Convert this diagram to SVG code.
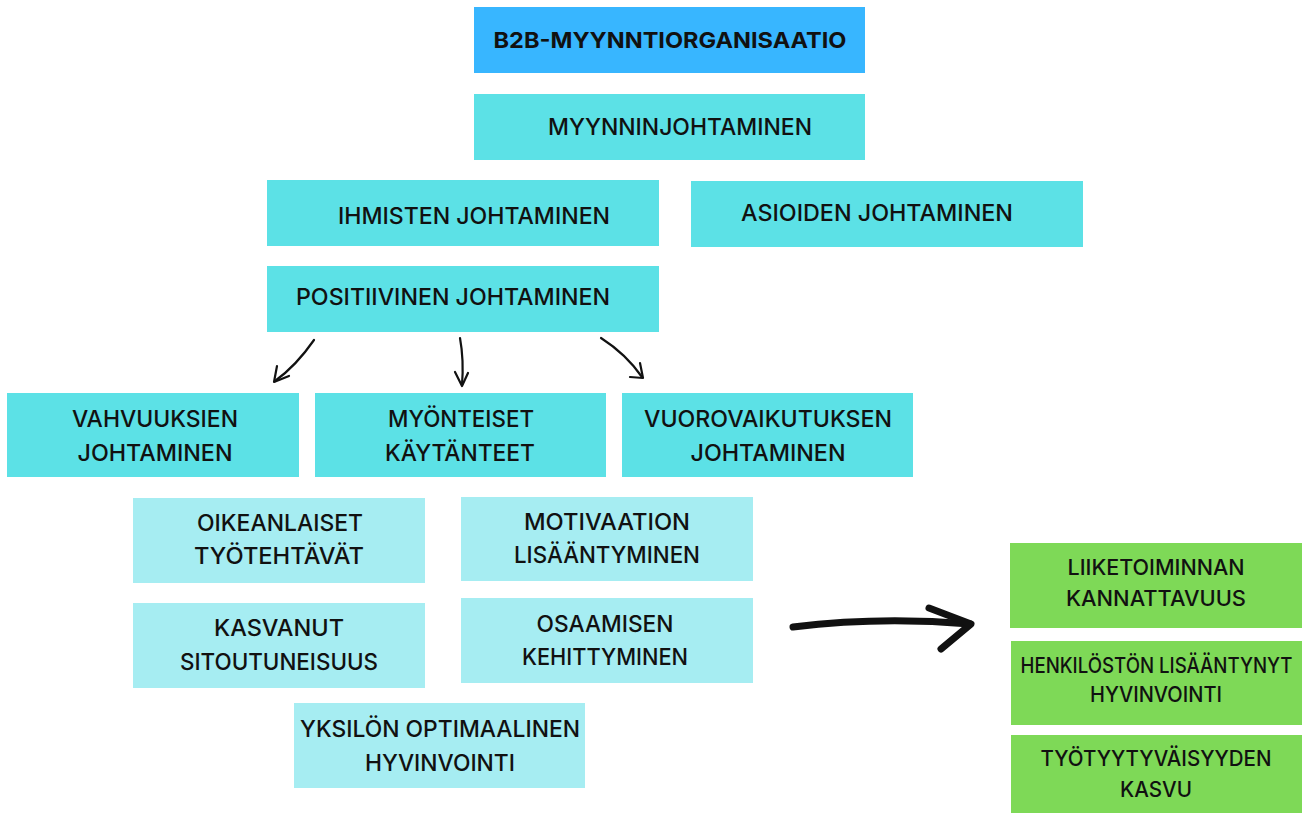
<svg xmlns="http://www.w3.org/2000/svg" width="1305" height="813" viewBox="0 0 1305 813">
<style>
.top{fill:#38B6FF}
.t1{fill:#5CE1E6}
.t2{fill:#A6EDF2}
.g{fill:#7ED957}
text{font-family:Inter,"Liberation Sans",sans-serif;font-weight:500;font-size:23px;fill:#111;text-anchor:middle}
.bold{font-weight:700;font-size:22px}
.sm{font-size:21.5px}
.arr{fill:none;stroke:#111;stroke-width:2.2;stroke-linecap:round;stroke-linejoin:round}
.big{fill:none;stroke:#111;stroke-width:7;stroke-linecap:round;stroke-linejoin:round}
</style>
<rect width="1305" height="813" fill="#fff"/>
<g id="n-b2b"><rect class="top" x="474" y="7" width="391" height="66"/><text class="bold" x="670" y="48" textLength="353" lengthAdjust="spacingAndGlyphs">B2B-MYYNNTIORGANISAATIO</text></g>
<g id="n-myynninjohtaminen"><rect class="t1" x="474" y="94" width="391" height="66"/><text x="680" y="135" textLength="264" lengthAdjust="spacingAndGlyphs">MYYNNINJOHTAMINEN</text></g>
<g id="n-ihmisten"><rect class="t1" x="267" y="180" width="392" height="66"/><text x="474" y="224" textLength="272" lengthAdjust="spacingAndGlyphs">IHMISTEN JOHTAMINEN</text></g>
<g id="n-asioiden"><rect class="t1" x="691" y="181" width="392" height="66"/><text x="877" y="221" textLength="272" lengthAdjust="spacingAndGlyphs">ASIOIDEN JOHTAMINEN</text></g>
<g id="n-positiivinen"><rect class="t1" x="267" y="266" width="392" height="66"/><text x="453" y="305" textLength="314" lengthAdjust="spacingAndGlyphs">POSITIIVINEN JOHTAMINEN</text></g>
<g id="n-vahvuuksien"><rect class="t1" x="7" y="393" width="292" height="84"/><text x="155" y="427" textLength="166" lengthAdjust="spacingAndGlyphs">VAHVUUKSIEN</text><text x="155" y="461" textLength="155" lengthAdjust="spacingAndGlyphs">JOHTAMINEN</text></g>
<g id="n-myonteiset"><rect class="t1" x="315" y="393" width="291" height="84"/><text x="461" y="427" textLength="146" lengthAdjust="spacingAndGlyphs">MYÖNTEISET</text><text x="460" y="461" textLength="150" lengthAdjust="spacingAndGlyphs">KÄYTÄNTEET</text></g>
<g id="n-vuorovaikutuksen"><rect class="t1" x="622" y="393" width="291" height="84"/><text x="768" y="427" textLength="248" lengthAdjust="spacingAndGlyphs">VUOROVAIKUTUKSEN</text><text x="768" y="461" textLength="155" lengthAdjust="spacingAndGlyphs">JOHTAMINEN</text></g>
<g id="n-oikeanlaiset"><rect class="t2" x="133" y="498" width="292" height="85"/><text x="280" y="531" textLength="166" lengthAdjust="spacingAndGlyphs">OIKEANLAISET</text><text x="279" y="564" textLength="170" lengthAdjust="spacingAndGlyphs">TYÖTEHTÄVÄT</text></g>
<g id="n-motivaation"><rect class="t2" x="461" y="497" width="292" height="84"/><text x="607" y="530" textLength="166" lengthAdjust="spacingAndGlyphs">MOTIVAATION</text><text x="607" y="563" textLength="186" lengthAdjust="spacingAndGlyphs">LISÄÄNTYMINEN</text></g>
<g id="n-kasvanut"><rect class="t2" x="133" y="603" width="292" height="85"/><text x="279" y="636" textLength="130" lengthAdjust="spacingAndGlyphs">KASVANUT</text><text x="279" y="670" textLength="198" lengthAdjust="spacingAndGlyphs">SITOUTUNEISUUS</text></g>
<g id="n-osaamisen"><rect class="t2" x="461" y="598" width="292" height="85"/><text x="605" y="632" textLength="137" lengthAdjust="spacingAndGlyphs">OSAAMISEN</text><text x="605" y="665" textLength="166" lengthAdjust="spacingAndGlyphs">KEHITTYMINEN</text></g>
<g id="n-yksilon"><rect class="t2" x="294" y="703" width="291" height="85"/><text x="440" y="737" textLength="280" lengthAdjust="spacingAndGlyphs">YKSILÖN OPTIMAALINEN</text><text x="440" y="771" textLength="150" lengthAdjust="spacingAndGlyphs">HYVINVOINTI</text></g>
<g id="n-liiketoiminnan"><rect class="g" x="1010" y="543" width="292" height="85"/><text class="sm" x="1156" y="575" textLength="177" lengthAdjust="spacingAndGlyphs">LIIKETOIMINNAN</text><text class="sm" x="1156" y="606" textLength="180" lengthAdjust="spacingAndGlyphs">KANNATTAVUUS</text></g>
<g id="n-henkiloston"><rect class="g" x="1011" y="641" width="291" height="84"/><text class="sm" transform="translate(1156.5 673) scale(0.85 1)" x="0" y="0" textLength="320" lengthAdjust="spacingAndGlyphs">HENKILÖSTÖN LISÄÄNTYNYT</text><text class="sm" x="1156" y="702" textLength="132" lengthAdjust="spacingAndGlyphs">HYVINVOINTI</text></g>
<g id="n-tyotyytyvaisyyden"><rect class="g" x="1011" y="735" width="291" height="78"/><text class="sm" x="1156" y="766" textLength="231" lengthAdjust="spacingAndGlyphs">TYÖTYYTYVÄISYYDEN</text><text class="sm" x="1156" y="797" textLength="72" lengthAdjust="spacingAndGlyphs">KASVU</text></g>
<g id="connectors">
<path class="arr" d="M314 340 Q296 366 275 381"/><path class="arr" d="M277 366 L274 382 L289 376"/>
<path class="arr" d="M460 338 Q464 360 462 385"/><path class="arr" d="M455 372 L462 386 L468 373"/>
<path class="arr" d="M601 338 Q626 354 642 377"/><path class="arr" d="M640 363 L643 378 L630 377"/>
<path class="big" d="M793 627 Q880 616 970 624"/><path class="big" d="M929 608 L971 624 L941 649"/>
</g>
</svg>
